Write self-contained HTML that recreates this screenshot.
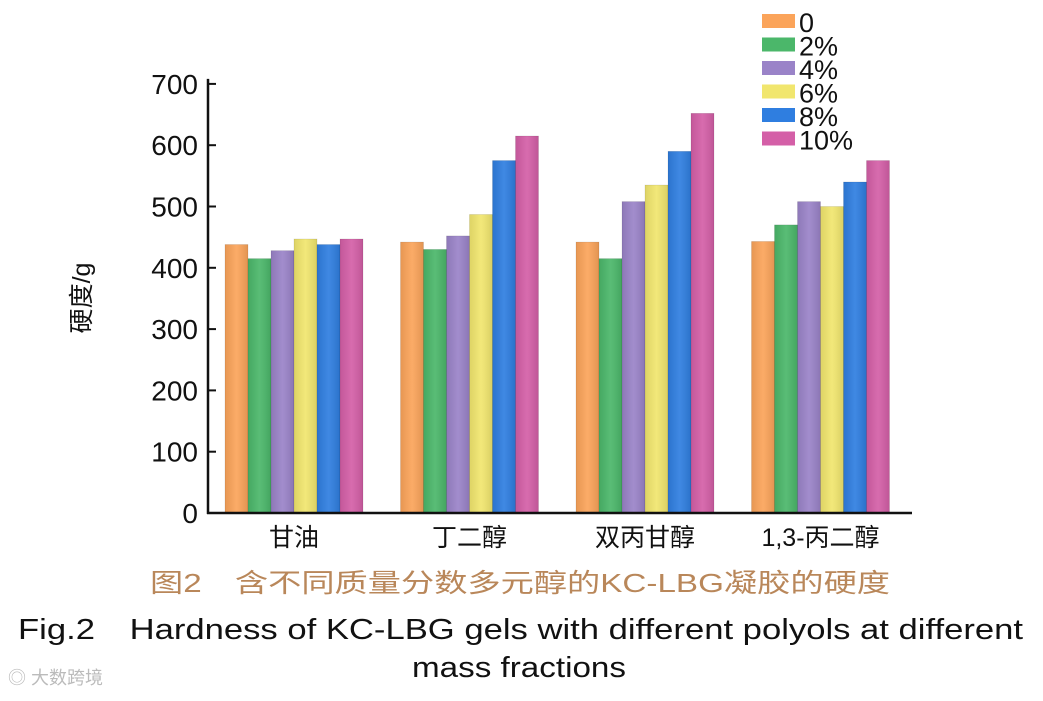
<!DOCTYPE html>
<html><head><meta charset="utf-8"><style>
body{margin:0;background:#fff;width:1043px;height:696px;overflow:hidden;font-family:"Liberation Sans","Noto Sans CJK SC",sans-serif}
</style></head><body>
<svg width="1043" height="696" xmlns="http://www.w3.org/2000/svg">
<defs>
<linearGradient id="sh" x1="0" x2="1" y1="0" y2="0"><stop offset="0" stop-color="#000" stop-opacity="0.08"/><stop offset="0.5" stop-color="#fff" stop-opacity="0.08"/><stop offset="1" stop-color="#000" stop-opacity="0.1"/></linearGradient>
</defs>
<g id="bars"></g>
<g id="axes"></g>
<g id="legend"></g>
<text x="90" y="298" font-size="25" text-anchor="middle" transform="rotate(-90 90 298)" fill="#111">硬度/g</text>
<text x="150" y="592" font-size="26" textLength="740" lengthAdjust="spacingAndGlyphs" fill="#b9875a">图2　含不同质量分数多元醇的KC-LBG凝胶的硬度</text>
<text x="18" y="639" font-size="29" textLength="1005" lengthAdjust="spacingAndGlyphs" fill="#111">Fig.2　Hardness of KC-LBG gels with different polyols at different</text>
<text x="412" y="677" font-size="29" textLength="214" lengthAdjust="spacingAndGlyphs" fill="#111">mass fractions</text>
<text x="8" y="684" font-size="18" fill="#bbb">◎ 大数跨境</text>
</svg>
<script>
const categories=["甘油","丁二醇","双丙甘醇","1,3-丙二醇"];
const seriesNames=["0","2%","4%","6%","8%","10%"];
const s0=[438,442,442,443];
const s2=[415,430,415,470];
const s4=[428,452,508,508];
const s6=[447,487,535,500];
const s8=[438,575,590,540];
const s10=[447,615,652,575];
const yTicks=[0,100,200,300,400,500,600,700];
const colors=["#fba45a","#4bb76a","#9a83c8","#f1e66e","#2f7ee0","#d45fa7"];
const series=[s0,s2,s4,s6,s8,s10];
const NS="http://www.w3.org/2000/svg";
const y0=513, pxPer=0.613;
const yScale=v=>y0-v*pxPer;
const xCenter=i=>294+i*175.5;
const bw=23;
function mk(t,a,p){const e=document.createElementNS(NS,t);for(const k in a)e.setAttribute(k,a[k]);p.appendChild(e);return e;}
const bars=document.getElementById('bars');
categories.forEach((c,i)=>{
 series.forEach((s,j)=>{
  const x=xCenter(i)-3*bw+j*bw, y=yScale(s[i]);
  const r=mk('rect',{x:x,y:y,width:bw,height:y0-y,fill:colors[j],stroke:"rgba(0,0,0,0.15)","stroke-width":0.6},bars);
  
  
  mk('rect',{x:x,y:y,width:bw,height:y0-y,fill:"url(#sh)"},bars);
 });
});
const ax=document.getElementById('axes');
const yl=mk('line',{x1:208,y1:yScale(700)-5,x2:208,y2:y0+1,stroke:"#111","stroke-width":2.5},ax);


const xl=mk('line',{x1:207,y1:y0,x2:912,y2:y0,stroke:"#111","stroke-width":2.5},ax);


yTicks.forEach(t=>{
 const y=yScale(t);
 mk('line',{x1:208,y1:y,x2:216,y2:y,stroke:"#111","stroke-width":2},ax);
 const tx=mk('text',{x:198,y:y+10,"font-size":28,"text-anchor":"end",fill:"#111"},ax);
 tx.textContent=t;
 
 
});
categories.forEach((c,i)=>{
 const tx=mk('text',{x:xCenter(i),y:546,"font-size":25,"text-anchor":"middle",fill:"#111"},ax);
 tx.textContent=c;
 
 
});
const lg=document.getElementById('legend');
seriesNames.forEach((n,j)=>{
 const y=14+j*23.5;
 const r=mk('rect',{x:762,y:y,width:33,height:14,fill:colors[j]},lg);
 
 
 const t=mk('text',{x:799,y:y+18,"font-size":27,fill:"#111"},lg);
 t.textContent=n;
 
 
});
</script>
</body></html>
